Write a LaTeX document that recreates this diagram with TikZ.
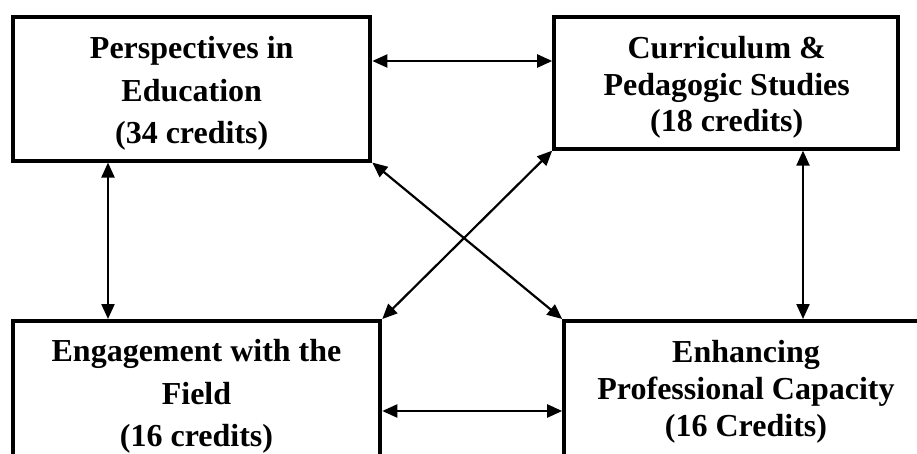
\documentclass[tikz,border=0pt]{standalone}
\usepackage{fontspec}
\setmainfont{Liberation Serif}
\usetikzlibrary{arrows.meta}
\begin{document}
\begin{tikzpicture}[x=1pt,y=-1pt,
  box/.style={draw, line width=4pt, inner sep=0pt, rectangle},
  lbl/.style={align=center, inner sep=0pt, font=\bfseries\fontsize{32}{#1}\selectfont},
  arr/.style={{Triangle[length=15pt,width=13pt]}-{Triangle[length=15pt,width=13pt]}, line width=2.2pt}]
\useasboundingbox (0,0) rectangle (917,454);
\clip (0,0) rectangle (917,454);
\fill[white] (0,0) rectangle (917,454);
% boxes
\node[box, minimum width=357.3pt, minimum height=143.5pt] (b1) at (191.7,88.8) {};
\node[box, minimum width=343.8pt, minimum height=131.7pt] (b2) at (726.1,82.8) {};
\node[box, minimum width=367.3pt, minimum height=159pt] (b3) at (196.65,400.5) {};
\node[box, minimum width=385.8pt, minimum height=159pt] (b4) at (757.1,400.5) {};
% texts
\node[lbl=42.5pt] (t1) at (191.7,93.4) {Perspectives in\\Education\\(34 credits)};
\node[lbl=36.7pt] (t2) at (726.7,87.6) {Curriculum \&\\Pedagogic Studies\\(18 credits)};
\node[lbl=42.5pt] (t3) at (196.5,396.8) {Engagement with the\\Field\\(16 credits)};
\node[lbl=37pt] (t4) at (746,392.3) {Enhancing\\Professional Capacity\\(16 Credits)};
% connectors
\coordinate (ht) at (0,61);
\coordinate (hb) at (0,411);
\coordinate (vl) at (108,0);
\coordinate (vr) at (803,0);
\draw[arr] (b1.east |- ht) -- (b2.west |- ht);
\draw[arr] (b1.south -| vl) -- (b3.north -| vl);
\draw[arr] (b2.south -| vr) -- (b4.north -| vr);
\draw[arr] (b3.east |- hb) -- (b4.west |- hb);
\draw[arr] (b1.south east) -- (b4.north west);
\draw[arr] (b2.south west) -- (b3.north east);
\end{tikzpicture}
\end{document}
